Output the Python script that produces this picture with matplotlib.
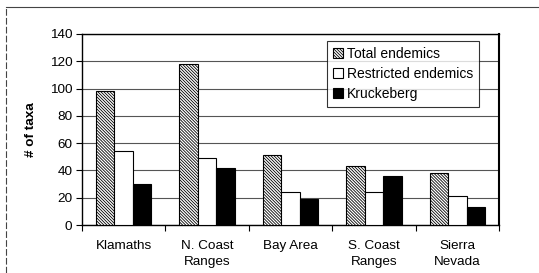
import numpy as np
import matplotlib
matplotlib.use('Agg')
from matplotlib import pyplot as plt
from matplotlib.lines import Line2D

plt.rcParams['font.family'] = ['Liberation Sans', 'DejaVu Sans']
plt.rcParams['hatch.linewidth'] = 0.6

regions = ['Klamaths', 'N. Coast\nRanges', 'Bay Area', 'S. Coast\nRanges', 'Sierra\nNevada']
total_endemics = [98, 118, 51, 43, 38]
restricted_endemics = [54, 49, 24, 24, 21]
kruckeberg = [30, 42, 19, 36, 13]

fig = plt.figure(figsize=(5.39, 2.73), dpi=100)
ax = fig.add_axes([82 / 539, 1 - 225 / 273, 417 / 539, 191 / 273])

x = np.arange(len(regions))
w = 0.222
ax.bar(x - w, total_endemics, w, color='white', edgecolor='black', hatch='\\' * 11,
       linewidth=0.8, label='Total endemics', zorder=3)
ax.bar(x, restricted_endemics, w, color='white', edgecolor='black',
       linewidth=0.8, label='Restricted endemics', zorder=3)
ax.bar(x + w, kruckeberg, w, color='black', edgecolor='black',
       linewidth=0.8, label='Kruckeberg', zorder=3)

ax.set_xlim(-0.5, len(regions) - 0.5)
ax.set_ylim(0, 140)
ax.set_yticks(range(0, 141, 20))
ax.yaxis.grid(True, color='#555555', linewidth=0.8, zorder=0)
ax.set_xticks(np.arange(-0.5, len(regions), 1))
ax.set_xticklabels([])
ax.set_xticks(x, minor=True)
ax.set_xticklabels(regions, minor=True, fontsize=9.7, linespacing=1.4)
ax.tick_params(axis='x', which='minor', length=0, pad=11)
ax.tick_params(axis='x', which='major', length=4, direction='out', width=0.8)
ax.tick_params(axis='y', length=4, direction='out', width=0.8, labelsize=9.7, pad=3)
for s in ax.spines.values():
    s.set_linewidth(1.0)
ax.spines['right'].set_linewidth(1.5)

ax.set_ylabel('# of taxa', fontsize=9.7, fontweight='bold', labelpad=9)

leg = ax.legend(loc='upper right', bbox_to_anchor=(479 / 539, 1 - 41 / 273),
                bbox_transform=fig.transFigure, fontsize=10, frameon=True,
                fancybox=False, edgecolor='black', handlelength=0.75, handleheight=0.75,
                handletextpad=0.3, labelspacing=0.45, borderpad=0.4, borderaxespad=0)
leg.get_frame().set_linewidth(0.8)

# outer chart border (dashed left edge, top line)
fig.add_artist(Line2D([6 / 539, 6 / 539], [0, 1 - 7 / 273], transform=fig.transFigure,
                      color='#444444', linewidth=0.8, linestyle=(0, (6, 2))))
fig.add_artist(Line2D([6 / 539, 1], [1 - 7 / 273, 1 - 7 / 273], transform=fig.transFigure,
                      color='#444444', linewidth=0.8))

plt.savefig('out.png', dpi=100)
plt.close(fig)
